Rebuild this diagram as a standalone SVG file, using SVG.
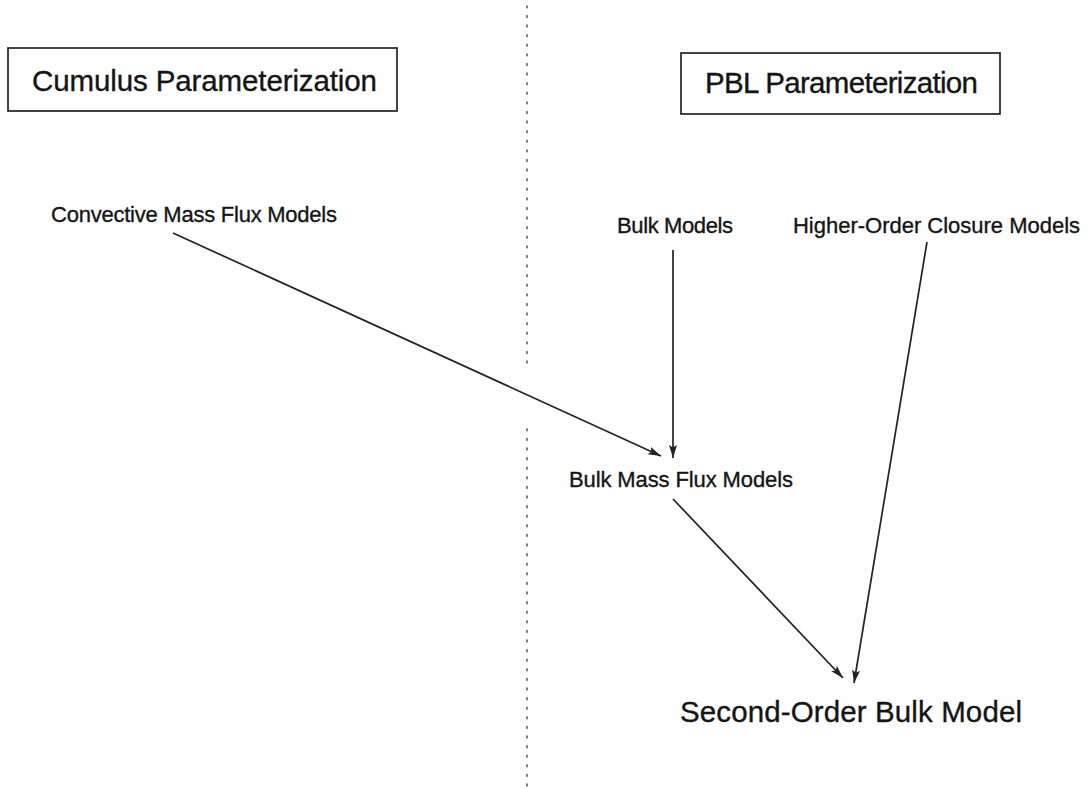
<svg xmlns="http://www.w3.org/2000/svg" width="1091" height="788" viewBox="0 0 1091 788">
<defs>
<style>
text{font-family:"Liberation Sans",Arial,Helvetica,sans-serif;fill:#151515;stroke:#151515;stroke-width:0.35}
.big{font-size:29.5px}
.mid{font-size:22px}
.box{fill:none;stroke:#222;stroke-width:1.7}
.conn{stroke:#222;stroke-width:1.7;fill:none;marker-end:url(#arr)}
.div{stroke:#666;stroke-width:1.7;stroke-dasharray:1.6 8;stroke-linecap:round;fill:none}
</style>
<marker id="arr" markerUnits="userSpaceOnUse" markerWidth="14" markerHeight="10" refX="13" refY="4" orient="auto">
<path d="M0,0 L13,4 L0,8 L2.5,4 z" fill="#222"/>
</marker>
</defs>
<rect width="1091" height="788" fill="#fff"/>
<g id="divider">
<line class="div" x1="527" y1="6" x2="527" y2="364"/>
<line class="div" x1="527" y1="429" x2="527" y2="786"/>
</g>
<g id="cumulus">
<rect class="box" x="8" y="48" width="389" height="63"/>
<text class="big" x="32" y="91" textLength="345">Cumulus Parameterization</text>
</g>
<g id="pbl">
<rect class="box" x="681" y="53" width="319" height="61"/>
<text class="big" x="705" y="93" textLength="273">PBL Parameterization</text>
</g>
<g id="convective">
<text class="mid" x="51" y="222" textLength="286">Convective Mass Flux Models</text>
</g>
<g id="bulk">
<text class="mid" x="617" y="233" textLength="116">Bulk Models</text>
</g>
<g id="higher">
<text class="mid" x="793" y="233" textLength="287">Higher-Order Closure Models</text>
</g>
<g id="bulkmass">
<text class="mid" x="569" y="487" textLength="224">Bulk Mass Flux Models</text>
</g>
<g id="second">
<text class="big" x="680" y="722" textLength="342">Second-Order Bulk Model</text>
</g>
<g id="connectors">
<line class="conn" x1="173" y1="233" x2="661" y2="456"/>
<line class="conn" x1="673" y1="250" x2="673" y2="458"/>
<line class="conn" x1="673" y1="499" x2="843" y2="678"/>
<line class="conn" x1="927" y1="242" x2="854" y2="683"/>
</g>
</svg>
